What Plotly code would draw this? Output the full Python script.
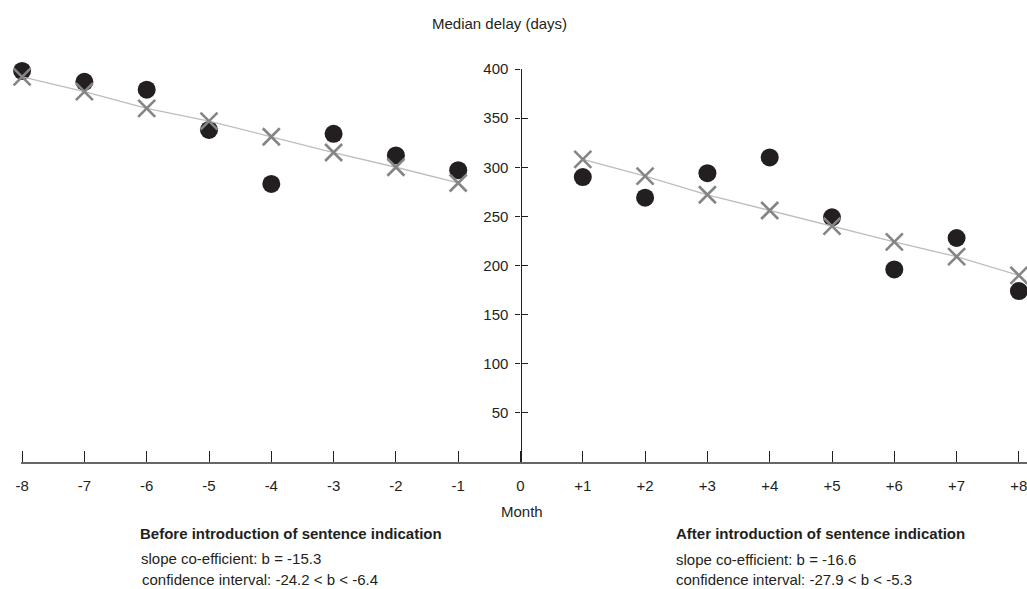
import plotly.graph_objects as go

# ---- data ----
months_before = [-8, -7, -6, -5, -4, -3, -2, -1]
months_after = [1, 2, 3, 4, 5, 6, 7, 8]
delay_before = [398, 387, 379, 338, 283, 334, 312, 297]
delay_after = [290, 269, 294, 310, 249, 196, 228, 174]
fit_before = [392, 377, 360, 347, 331, 315, 300, 284]
fit_after = [308, 291, 272, 256, 240, 224, 209, 190]
x_tickvals = list(range(-8, 9))
x_ticktext = ["-8", "-7", "-6", "-5", "-4", "-3", "-2", "-1", "0",
              "+1", "+2", "+3", "+4", "+5", "+6", "+7", "+8"]
y_tickvals = [50, 100, 150, 200, 250, 300, 350, 400]

W, H = 1027, 589
ML, MR, MT, MB = 21, 0, 69, 127
PW = W - ML - MR
PH = H - MT - MB
px_per_month = 62.3
x0_px = 520.5
xmin = (ML - x0_px) / px_per_month
xmax = (W - MR - x0_px) / px_per_month

def pxx(px):
    return (px - ML) / PW

def pxy(py):
    return (H - MB - py) / PH

FONT = "Liberation Sans Narrow, Arial Narrow, Liberation Sans, Arial, sans-serif"
TXT = "#231f20"
DOT = "#231f20"
XCOL = "#858585"
LINECOL = "#bdbdbd"

fig = go.Figure()

for mx, dv in [(months_before, delay_before), (months_after, delay_after)]:
    fig.add_trace(go.Scatter(
        x=mx, y=dv, mode="markers",
        marker=dict(symbol="circle", size=18, color=DOT, line=dict(width=0)),
        cliponaxis=False, showlegend=False, hoverinfo="skip"))

for mx, fv in [(months_before, fit_before), (months_after, fit_after)]:
    fig.add_trace(go.Scatter(
        x=mx, y=fv, mode="lines+markers",
        line=dict(color=LINECOL, width=1.3),
        marker=dict(symbol="x-thin", size=17, color=XCOL,
                    line=dict(width=2.6, color=XCOL)),
        cliponaxis=False, showlegend=False, hoverinfo="skip"))

ypos = (x0_px - ML) / PW

fig.update_layout(
    width=W, height=H,
    margin=dict(l=ML, r=MR, t=MT, b=MB),
    plot_bgcolor="white", paper_bgcolor="white",
    font=dict(family=FONT, size=15, color=TXT),
    xaxis=dict(
        range=[xmin, xmax], tickvals=x_tickvals, ticktext=x_ticktext,
        ticks="inside", ticklen=11, tickwidth=1.2, tickcolor=TXT,
        showline=True, linecolor="#666666", linewidth=2,
        showgrid=False, zeroline=False, ticklabelstandoff=9,
        ticklabeloverflow="allow",
        tickfont=dict(family=FONT, size=15, color=TXT),
    ),
    yaxis=dict(
        range=[0, 400], tickvals=y_tickvals,
        anchor="free", position=ypos,
        ticks="outside", ticklen=5, tickwidth=1.2, tickcolor=TXT,
        showline=True, linecolor=TXT, linewidth=1.3,
        showgrid=False, zeroline=False, ticklabelstandoff=4,
        tickfont=dict(family=FONT, size=15, color=TXT),
    ),
    yaxis2=dict(
        range=[0, 400], tickvals=y_tickvals, overlaying="y",
        anchor="free", position=ypos, side="left",
        ticks="inside", ticklen=6, tickwidth=1.2, tickcolor=TXT,
        showticklabels=False, showline=False, showgrid=False, zeroline=False,
    ),
)

# invisible trace to activate yaxis2
fig.add_trace(go.Scatter(x=[0], y=[0], yaxis="y2", mode="markers",
                         marker=dict(opacity=0), showlegend=False, hoverinfo="skip"))

ann = [
    ("Median delay (days)", 499, 24, "center", False),
    ("Month", 522, 511, "center", False),
    ("Before introduction of sentence indication", 138, 533, "left", True),
    ("slope co-efficient: b = -15.3", 139, 558, "left", False),
    ("confidence interval: -24.2 < b < -6.4", 140, 579, "left", False),
    ("After introduction of sentence indication", 674, 533, "left", True),
    ("slope co-efficient: b = -16.6", 674, 559, "left", False),
    ("confidence interval: -27.9 < b < -5.3", 674, 579, "left", False),
]
for text, px, py, align, bold in ann:
    fig.add_annotation(
        text=f"<b>{text}</b>" if bold else text,
        xref="paper", yref="paper", x=pxx(px), y=pxy(py),
        xanchor=align, yanchor="middle", showarrow=False,
        font=dict(family=FONT, size=15, color=TXT))

fig.write_html(
    "out.html",
    config={"displayModeBar": False},
    post_script="document.body.style.margin='0';document.body.style.overflow='hidden';",
)
